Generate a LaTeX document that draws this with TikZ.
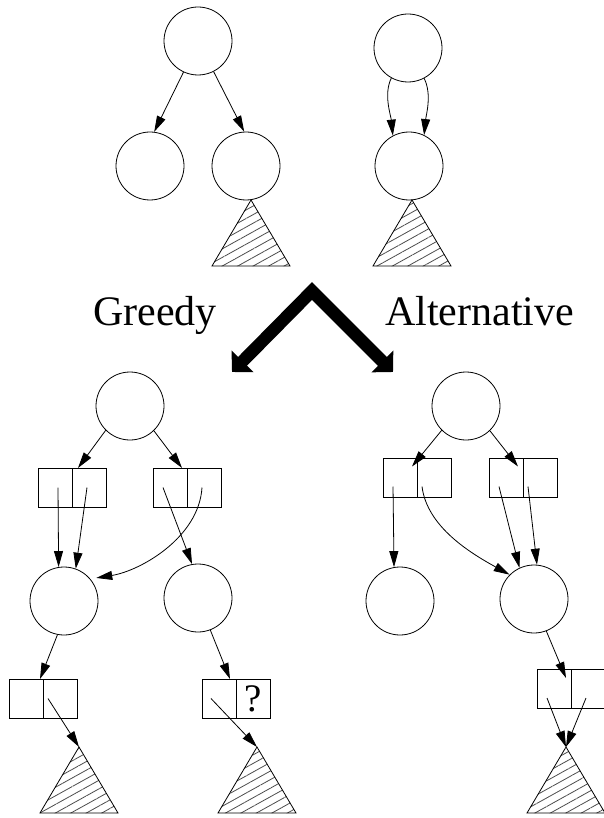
\documentclass[tikz,border=0pt]{standalone}
\usepackage{fontspec}
\setmainfont{Liberation Serif}
\usetikzlibrary{positioning,arrows.meta,patterns.meta}

\begin{document}
\begin{tikzpicture}[x=1pt, y=-1pt,
  vertex/.style={draw, circle, minimum size=68pt, inner sep=0pt, line width=0.8pt},
  cell/.style={draw, minimum width=34pt, minimum height=39pt, inner sep=0pt, outer sep=0pt, line width=0.8pt},
  link/.style={-{Triangle[length=16pt,width=9pt]}, line width=0.8pt},
  subtree/.style={draw, line width=0.8pt, pattern={Lines[angle=29,distance=7.5pt,line width=0.8pt]}, pattern color=black!70},
  choice/.style={font=\fontsize{42}{42}\selectfont, anchor=base west, inner sep=0pt}]
  \useasboundingbox (0,0) rectangle (603,818);

  % Top left tree
  \node[vertex] (tRoot) at (198,41) {};
  \node[vertex] (tLeft) at (150,166) {};
  \node[vertex] (tRight) at (246,166) {};
  \coordinate (tTri) at (251,200);
  \draw[subtree] (tTri) -- ++(39,66) -- ++(-78,0) -- cycle;
  \draw[link] (tRoot.245) -- (tLeft.83);
  \draw[link] (tRoot.297) -- (tRight.93);

  % Top right tree, both pointers to the same child
  \node[vertex] (uRoot) at (408,48) {};
  \node[vertex] (uChild) at (409,166) {};
  \coordinate (uTri) at (412,200);
  \draw[subtree] (uTri) -- ++(39,66) -- ++(-78,0) -- cycle;
  \draw[link] (uRoot.241) .. controls +(-8,16) and +(-2,-20) .. (uChild.118);
  \draw[link] (uRoot.298) .. controls +(8,16) and +(2,-20) .. (uChild.64);

  % The split
  \node[choice] (greedyText) at (93,325) {Greedy};
  \node[choice] (altText) at (385,325) {Alternative};
  \coordinate (splitTop) at (312,291);
  \coordinate (toGreedy) at (232,372);
  \coordinate (toAlt) at (393,372);
  \draw[line width=12.5pt, {Triangle[length=15pt,width=30pt]}-{Triangle[length=15pt,width=30pt]}]
    (toGreedy) -- (splitTop) -- (toAlt);

  % Greedy result
  \node[vertex] (gRoot) at (130,406) {};
  \node[cell] (gA1) at (55,487.5) {};
  \node[cell, right=0pt of gA1] (gA2) {};
  \node[cell] (gB1) at (170,487.5) {};
  \node[cell, right=0pt of gB1] (gB2) {};
  \node[vertex] (gLeft) at (64,601) {};
  \node[vertex] (gRight) at (198,598) {};
  \node[cell] (gC1) at (26,698.5) {};
  \node[cell, right=0pt of gC1] (gC2) {};
  \node[cell] (gD1) at (219,698.5) {};
  \node[cell, right=0pt of gD1, font=\fontsize{39}{39}\selectfont] (gD2) {?};
  \coordinate (gTri1) at (79,747);
  \coordinate (gTri2) at (257,747);
  \draw[subtree] (gTri1) -- ++(39,66) -- ++(-78,0) -- cycle;
  \draw[subtree] (gTri2) -- ++(39,66) -- ++(-78,0) -- cycle;
  \draw[link] (gRoot.225) -- ([xshift=6pt]gA2.north west);
  \draw[link] (gRoot.314) -- ([xshift=-5pt]gB1.north east);
  \draw[link] ([xshift=3pt]gA1.center) -- (gLeft.99);
  \draw[link] ([xshift=-2pt]gA2.center) -- (gLeft.70);
  \draw[link] ([xshift=-7pt]gB1.center) -- (gRight.100);
  \draw[link, shorten >=6pt] ([xshift=-2pt]gB2.center) .. controls +(-3,50) and +(50,-8) .. (gLeft.40);
  \draw[link] (gLeft.259) -- ([xshift=-3pt]gC1.north east);
  \draw[link] (gRight.291) -- ([xshift=-6pt]gD1.north east);
  \draw[link] ([xshift=-12pt]gC2.center) -- (gTri1);
  \draw[link] ([xshift=-8pt]gD1.center) -- (gTri2);

  % Alternative result
  \node[vertex] (aRoot) at (466,406) {};
  \node[cell] (aA1) at (400,477.5) {};
  \node[cell, right=0pt of aA1] (aA2) {};
  \node[cell] (aB1) at (506,477.5) {};
  \node[cell, right=0pt of aB1] (aB2) {};
  \node[vertex] (aLeft) at (400,601) {};
  \node[vertex] (aRight) at (534,599) {};
  \node[cell] (aC1) at (554,689) {};
  \node[cell, right=0pt of aC1] (aC2) {};
  \coordinate (aTri) at (566,747);
  \draw[subtree] (aTri) -- ++(39,66) -- ++(-78,0) -- cycle;
  \draw[link] (aRoot.225) -- ([xshift=12pt,yshift=11pt]aA1.center);
  \draw[link] (aRoot.314) -- ([xshift=12pt,yshift=11pt]aB1.center);
  \draw[link] ([xshift=-7pt,yshift=-9pt]aA1.center) -- (aLeft.100);
  \draw[link] ([xshift=-12pt,yshift=-9pt]aA2.center) .. controls +(5,40) and +(-40,-22) .. (aRight.135);
  \draw[link] ([xshift=-7pt,yshift=-9pt]aB1.center) -- (aRight.115);
  \draw[link] ([xshift=-12pt,yshift=-9pt]aB2.center) -- (aRight.85);
  \draw[link] (aRight.291) -- ([xshift=12pt,yshift=11pt]aC1.center);
  \draw[link] ([xshift=-7pt,yshift=-9pt]aC1.center) -- (aTri);
  \draw[link] ([xshift=-2pt,yshift=-9pt]aC2.center) -- (aTri);
\end{tikzpicture}
\end{document}
